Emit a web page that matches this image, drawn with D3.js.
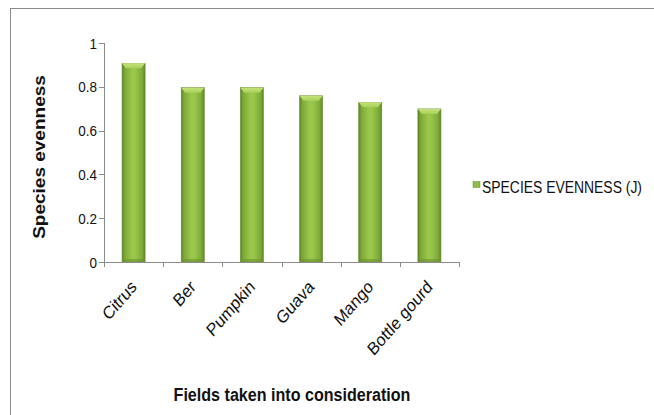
<!DOCTYPE html>
<html><head><meta charset="utf-8">
<script src="https://cdn.jsdelivr.net/npm/d3@7"></script>
<style>body{margin:0;background:#fff}svg{display:block}text{font-family:"Liberation Sans",Arial,sans-serif;fill:#111}</style>
</head><body><svg id="c" width="654" height="415"></svg>
<script>
const categories = ["Citrus","Ber","Pumpkin","Guava","Mango","Bottle gourd"];
const values = [0.907, 0.796, 0.796, 0.759, 0.729, 0.699];
const yTicks = [0, 0.2, 0.4, 0.6, 0.8, 1];
const yTickLabels = ["0","0.2","0.4","0.6","0.8","1"];
const seriesName = "SPECIES EVENNESS (J)";
const xTitle = "Fields taken into consideration";
const yTitle = "Species evenness";

const SQ = 0.87; // horizontal squeeze of the source picture
const svg = d3.select("#c");
const defs = svg.append("defs");
const g1 = defs.append("linearGradient").attr("id","barG").attr("x1","0").attr("x2","1").attr("y1","0").attr("y2","0");
[[0,"#5c8325"],[0.12,"#7ca937"],[0.45,"#9cc84c"],[0.6,"#98c449"],[0.88,"#7ca938"],[1,"#5f8628"]].forEach(s=>g1.append("stop").attr("offset",s[0]).attr("stop-color",s[1]));
const g2 = defs.append("linearGradient").attr("id","topG").attr("x1","0").attr("x2","0").attr("y1","0").attr("y2","1");
[[0,"#c6e27d"],[1,"#a8d157"]].forEach(s=>g2.append("stop").attr("offset",s[0]).attr("stop-color",s[1]));

// outer border
svg.append("rect").attr("x",10.5).attr("y",8.5).attr("width",660).attr("height",420)
  .attr("fill","none").attr("stroke","#8c8c8c").attr("stroke-width",1);

const x = d3.scaleBand().domain(categories).range([104,459]).paddingInner(0.61).paddingOuter(0.305);
const y = d3.scaleLinear().domain([0,1]).range([262,43]);

// bars
const bars = svg.append("g");
categories.forEach((c,i)=>{
  const x0 = x(c), w = x.bandwidth(), yt = y(values[i]), yb = y(0);
  bars.append("rect").attr("x",x0).attr("y",yt).attr("width",w).attr("height",yb-yt)
    .attr("fill","url(#barG)").attr("stroke","#6b8e33").attr("stroke-width",0.6);
  const bev = 5, ins = 4;
  bars.append("polygon").attr("points",[[x0,yt],[x0+w,yt],[x0+w-ins,yt+bev],[x0+ins,yt+bev]].map(p=>p.join(",")).join(" "))
    .attr("fill","url(#topG)");
  bars.append("rect").attr("x",x0+0.5).attr("y",yb-3).attr("width",w-1).attr("height",3).attr("fill","#6d9330").attr("opacity",0.6);
});

// axes
const ax = svg.append("g").attr("stroke","#8c8c8c").attr("stroke-width",1);
ax.append("line").attr("x1",104.5).attr("x2",104.5).attr("y1",y(1)).attr("y2",y(0));
ax.append("line").attr("x1",104).attr("x2",459).attr("y1",y(0)+0.5).attr("y2",y(0)+0.5);
yTicks.forEach(t=>ax.append("line").attr("x1",99).attr("x2",104.5).attr("y1",Math.round(y(t))+0.5).attr("y2",Math.round(y(t))+0.5));
const step = x.step();
const bounds = categories.map(c=>x(c)-step*x.paddingInner()/2).concat([x(categories[categories.length-1])+x.bandwidth()+step*x.paddingInner()/2]);
bounds.forEach(b=>ax.append("line").attr("x1",Math.round(b)+0.5).attr("x2",Math.round(b)+0.5).attr("y1",y(0)).attr("y2",y(0)+5));

// y tick labels
yTicks.forEach((t,i)=>{
  svg.append("text").attr("transform",`translate(97,${y(t)}) scale(${SQ},1)`)
    .attr("text-anchor","end").attr("dy","0.36em").attr("font-size",15.5).text(yTickLabels[i]);
});
// category labels
categories.forEach(c=>{
  const cx = x(c)+x.bandwidth()/2+4;
  svg.append("text").attr("transform",`translate(${cx},288) scale(${SQ},1) rotate(-45)`)
    .attr("text-anchor","end").attr("font-size",18).text(c);
});
// titles
svg.append("text").attr("transform",`translate(292,401) scale(${SQ},1)`).attr("text-anchor","middle")
  .attr("font-size",18.5).attr("font-weight","bold").text(xTitle);
svg.append("text").attr("transform",`translate(45,157) scale(${SQ},1) rotate(-90)`).attr("text-anchor","middle")
  .attr("font-size",19).attr("font-weight","bold").text(yTitle);
// legend
svg.append("rect").attr("x",473).attr("y",181.5).attr("width",7).attr("height",6).attr("fill","#8fbd45").attr("stroke","#6b8e33").attr("stroke-width",0.5);
svg.append("text").attr("transform",`translate(482,193) scale(${SQ},1)`).attr("font-size",16).text(seriesName);
</script></body></html>
